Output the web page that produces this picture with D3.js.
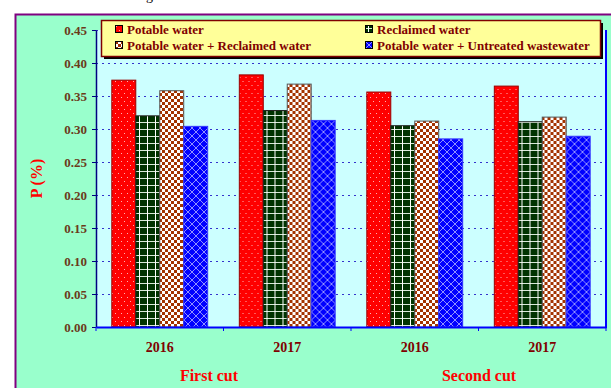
<!DOCTYPE html>
<html>
<head>
<meta charset="utf-8">
<script src="https://cdn.jsdelivr.net/npm/d3@7"></script>
<style>
  body { margin: 0; background: #fff; }
  svg { display: block; font-family: "Liberation Serif", "Times New Roman", serif; font-weight: bold; }
</style>
</head>
<body>
<div id="container"></div>
<script>
// Chart data
const groups = ["2016 a", "2017 a", "2016 b", "2017 b"];
const yearLabels = ["2016", "2017", "2016", "2017"];
const cutLabels = ["First cut", "Second cut"];
const series = ["Potable water", "Reclaimed water", "Potable water + Reclaimed water", "Potable water + Untreated wastewater"];
const potable = [0.374, 0.382, 0.356, 0.365];
const reclaimed = [0.320, 0.328, 0.305, 0.311];
const potableReclaimed = [0.358, 0.368, 0.312, 0.318];
const potableUntreated = [0.304, 0.313, 0.285, 0.289];
const yTicks = [0, 0.05, 0.10, 0.15, 0.20, 0.25, 0.30, 0.35, 0.40, 0.45];

const values = [potable, reclaimed, potableReclaimed, potableUntreated];

// Dimensions
const width = 611;
const height = 388;
const marginTop = 30;
const marginRight = 5;
const marginBottom = 61;
const marginLeft = 96;

const svg = d3.select("#container").append("svg")
    .attr("width", width)
    .attr("height", height)
    .attr("viewBox", [0, 0, width, height]);

// Patterns for the bars
const defs = svg.append("defs");

const pRed = defs.append("pattern").attr("id", "p0")
    .attr("patternUnits", "userSpaceOnUse").attr("width", 6).attr("height", 8);
pRed.append("rect").attr("width", 6).attr("height", 8).attr("fill", "#ff0000");
pRed.append("rect").attr("x", 1).attr("y", 1).attr("width", 1).attr("height", 1).attr("fill", "#ffb0b0");
pRed.append("rect").attr("x", 4).attr("y", 5).attr("width", 1).attr("height", 1).attr("fill", "#ffb0b0");

const pGreen = defs.append("pattern").attr("id", "p1")
    .attr("patternUnits", "userSpaceOnUse").attr("width", 8).attr("height", 7);
pGreen.append("rect").attr("width", 8).attr("height", 7).attr("fill", "#003300");
pGreen.append("rect").attr("x", 0).attr("y", 3).attr("width", 8).attr("height", 1).attr("fill", "#d8e8d8");
pGreen.append("rect").attr("x", 3).attr("y", 0).attr("width", 1).attr("height", 7).attr("fill", "#ffffff");

const pCheck = defs.append("pattern").attr("id", "p2")
    .attr("patternUnits", "userSpaceOnUse").attr("width", 6).attr("height", 6);
pCheck.append("rect").attr("width", 6).attr("height", 6).attr("fill", "#ffffff");
pCheck.append("rect").attr("width", 3).attr("height", 3).attr("fill", "#a33300");
pCheck.append("rect").attr("x", 3).attr("y", 3).attr("width", 3).attr("height", 3).attr("fill", "#a33300");

const pBlue = defs.append("pattern").attr("id", "p3")
    .attr("patternUnits", "userSpaceOnUse").attr("width", 8).attr("height", 8);
pBlue.append("rect").attr("width", 8).attr("height", 8).attr("fill", "#0000ff");
pBlue.append("path").attr("d", "M0,0L8,8M8,0L0,8")
    .attr("stroke", "#9090ff").attr("stroke-width", 1).attr("fill", "none");

const strokes = ["#990000", "#222222", "#555555", "#3333ff"];

// Outer background and frame
svg.append("rect").attr("width", width).attr("height", height).attr("fill", "#ffffff");
svg.append("rect")
    .attr("x", 15.5).attr("y", 14.5)
    .attr("width", width).attr("height", height)
    .attr("fill", "#99ffcc")
    .attr("stroke", "#800080").attr("stroke-width", 2);

// Partial title above the frame (only its descender is visible)
svg.append("text")
    .attr("x", 146).attr("y", 0)
    .attr("fill", "#000")
    .style("font-size", "14px")
    .style("font-weight", "normal")
    .text("g");

// Scales
const x0 = d3.scaleBand()
    .domain(groups)
    .range([marginLeft, width - marginRight]);

const x1 = d3.scaleBand()
    .domain(series)
    .range([0, x0.bandwidth()])
    .paddingOuter(0.66);

const y = d3.scaleLinear()
    .domain([0, 0.45])
    .range([height - marginBottom, marginTop]);

// Plot area
svg.append("rect")
    .attr("x", marginLeft).attr("y", marginTop)
    .attr("width", width - marginRight - marginLeft)
    .attr("height", height - marginBottom - marginTop)
    .attr("fill", "#ccffff");

// Dotted gridlines
svg.append("g")
    .selectAll("line")
    .data(yTicks.slice(1))
    .join("line")
    .attr("x1", marginLeft).attr("x2", width - marginRight)
    .attr("y1", d => Math.round(y(d)) + 0.5).attr("y2", d => Math.round(y(d)) + 0.5)
    .attr("stroke", "#3333cc")
    .attr("stroke-dasharray", "2,4");

// Bars
const barGroups = svg.append("g")
    .selectAll("g")
    .data(groups)
    .join("g")
    .attr("transform", d => `translate(${x0(d)},0)`);

barGroups.selectAll("rect")
    .data((g, gi) => series.map((s, si) => ({ s, si, v: values[si][gi] })))
    .join("rect")
    .attr("x", d => x1(d.s))
    .attr("y", d => y(d.v))
    .attr("width", x1.bandwidth())
    .attr("height", d => y(0) - y(d.v))
    .attr("fill", d => `url(#p${d.si})`)
    .attr("stroke", d => strokes[d.si])
    .attr("stroke-width", 1);

// Right frame of the plot
svg.append("line")
    .attr("x1", width - marginRight).attr("x2", width - marginRight)
    .attr("y1", marginTop).attr("y2", height - marginBottom + 1)
    .attr("stroke", "#0000ff").attr("stroke-width", 2);

// Y axis
svg.append("g")
    .attr("transform", `translate(${marginLeft},0)`)
    .call(d3.axisLeft(y).tickValues(yTicks).tickFormat(d3.format(".2f")).tickSize(4).tickSizeOuter(0))
    .call(g => g.select(".domain").attr("stroke", "#000080").attr("stroke-width", 1.5))
    .call(g => g.selectAll(".tick line").attr("stroke", "#000080"))
    .call(g => g.selectAll(".tick text")
        .attr("x", -9)
        .attr("fill", "#6b3a1a")
        .style("font-size", "13px")
        .style("font-family", "Liberation Serif")
        .style("font-weight", "bold"));

// X axis
svg.append("g")
    .attr("transform", `translate(0,${height - marginBottom})`)
    .call(d3.axisBottom(x0).tickValues([]).tickSizeOuter(0))
    .call(g => g.select(".domain").attr("stroke", "#0000ff").attr("stroke-width", 2))
    .call(g => g.selectAll(".sep")
        .data(d3.range(groups.length + 1))
        .join("line")
        .attr("class", "sep")
        .attr("x1", i => marginLeft + i * x0.bandwidth())
        .attr("x2", i => marginLeft + i * x0.bandwidth())
        .attr("y1", 0).attr("y2", 4)
        .attr("stroke", "#0000ff"));

svg.append("g")
    .selectAll("text")
    .data(groups)
    .join("text")
    .attr("x", (d, i) => x0(d) + x0.bandwidth() / 2)
    .attr("y", height - marginBottom + 25)
    .attr("text-anchor", "middle")
    .attr("fill", "#800000")
    .style("font-size", "14px")
    .text((d, i) => yearLabels[i]);

svg.append("g")
    .selectAll("text")
    .data(cutLabels)
    .join("text")
    .attr("x", (d, i) => i === 0 ? 209 : 479)
    .attr("y", height - 7)
    .attr("text-anchor", "middle")
    .attr("fill", "#ff0000")
    .style("font-size", "16px")
    .text(d => d);

// Y axis label
svg.append("text")
    .attr("transform", `translate(42,${(marginTop + height - marginBottom) / 2}) rotate(-90)`)
    .attr("text-anchor", "middle")
    .attr("fill", "#ff0000")
    .style("font-size", "16px")
    .text("P (%)");

// Legend
const legend = svg.append("g").attr("transform", "translate(101,20)");
legend.append("rect")
    .attr("x", 3).attr("y", 3).attr("width", 499).attr("height", 36)
    .attr("fill", "#000");
legend.append("rect")
    .attr("x", 0.5).attr("y", 0.5).attr("width", 499).attr("height", 36)
    .attr("fill", "#ffff99")
    .attr("stroke", "#800000").attr("stroke-width", 1.5);

series.forEach((s, i) => {
    const col = i % 2;
    const row = Math.floor(i / 2);
    const item = legend.append("g")
        .attr("transform", `translate(${col === 0 ? 14 : 264},${row === 0 ? 5 : 21})`);
    item.append("rect")
        .attr("width", 7).attr("height", 7)
        .attr("x", 0.5).attr("y", 0.5)
        .attr("fill", `url(#p${i})`)
        .attr("stroke", "#000").attr("stroke-width", 1);
    item.append("text")
        .attr("x", 12)
        .attr("y", 4)
        .attr("dy", "0.35em")
        .attr("fill", "#800000")
        .style("font-size", "13px")
        .text(s);
});
</script>
</body>
</html>
